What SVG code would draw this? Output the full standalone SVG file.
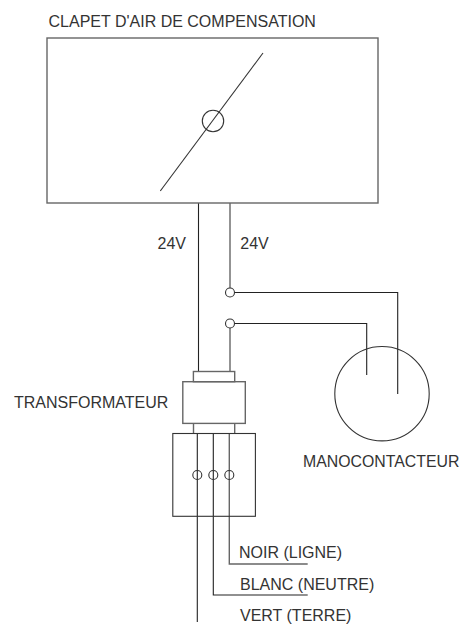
<svg xmlns="http://www.w3.org/2000/svg" width="461" height="625" viewBox="0 0 461 625">
<style>
.l{fill:none;stroke:#333;stroke-width:1.1}
.b{fill:none;stroke:#666;stroke-width:1.4}
.d{fill:none;stroke:#222;stroke-width:1.1}
.j{fill:#fff;stroke:#333;stroke-width:1.1}
text{font-family:"Liberation Sans",Arial,sans-serif;font-size:16px;fill:#333}
</style>
<rect width="461" height="625" fill="#fff"/>
<g id="connectors">
<path class="d" d="M198.500 203V371.500"/>
<path class="b" d="M230 203V288M230 328V371.500"/>
<path class="d" d="M234.500 292.500H397.700V394"/>
<path class="d" d="M234.500 323.500H366.700V375"/>
<path class="b" d="M193.500 423.500V433.500M234.700 423.500V433.500"/>
<path class="d" d="M197.300 433.500V622"/>
<path class="d" d="M213.300 433.500V595H307.700"/>
<path class="b" d="M229.300 433.500V564H307.700"/>
</g>
<g id="damper">
<rect class="b" x="47" y="38" width="331" height="165"/>
<path class="l" d="M160.300 191L263 53"/>
<circle class="l" cx="213" cy="121" r="10.700"/>
<text x="48.500" y="26.500">CLAPET D'AIR DE COMPENSATION</text>
</g>
<g id="label-24v-left"><text x="157.500" y="249">24V</text></g>
<g id="label-24v-right"><text x="240.300" y="249">24V</text></g>
<g id="junction-1"><circle class="j" cx="230" cy="292.500" r="4.500"/></g>
<g id="junction-2"><circle class="j" cx="230" cy="323.500" r="4.500"/></g>
<g id="pressure-switch">
<circle class="l" cx="382" cy="393.700" r="47.200"/>
<text x="303" y="466.500" style="font-size:15.850px">MANOCONTACTEUR</text>
</g>
<g id="transformer">
<rect class="b" x="193.400" y="371.500" width="41.300" height="10.200"/>
<rect class="b" x="182.800" y="381.700" width="62.500" height="41.700"/>
<text x="14" y="408">TRANSFORMATEUR</text>
</g>
<g id="terminal-block">
<rect class="l" x="172.800" y="433.500" width="82.600" height="82.800"/>
<circle class="l" cx="197.300" cy="475" r="4.500"/>
<circle class="l" cx="213.300" cy="475" r="4.500"/>
<circle class="l" cx="229.300" cy="475" r="4.500"/>
</g>
<g id="label-noir"><text x="239" y="558">NOIR (LIGNE)</text></g>
<g id="label-blanc"><text x="240" y="590">BLANC (NEUTRE)</text></g>
<g id="label-vert"><text x="240" y="621">VERT (TERRE)</text></g>
</svg>
